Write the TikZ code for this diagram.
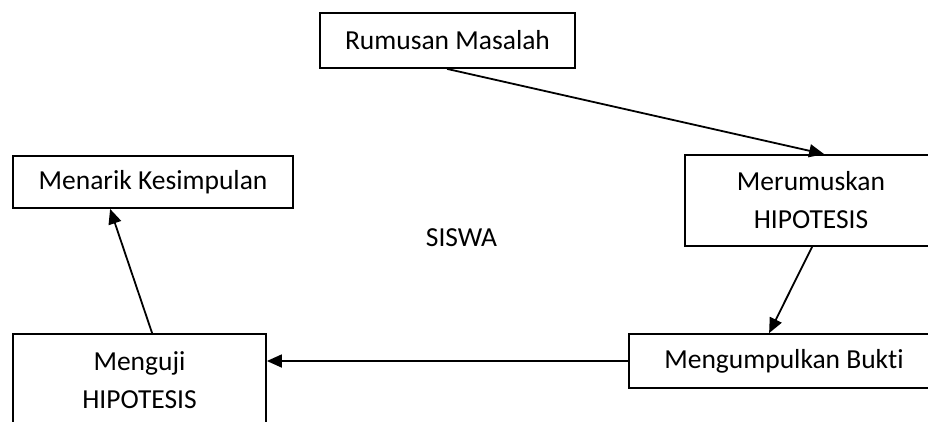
\documentclass[tikz,border=0pt]{standalone}
\usepackage{fontspec}
\setmainfont{Carlito}[Ligatures=NoCommon]
\usetikzlibrary{arrows.meta,calc}
\begin{document}
\begin{tikzpicture}[x=1pt,y=-1pt,
  box/.style={draw=black,line width=1.8pt,rectangle,inner sep=0pt,align=center,
    font=\fontsize{27.5}{38}\selectfont},
  arr/.style={line width=1.8pt,-{Triangle[length=15pt,width=13pt]}}]
\useasboundingbox (0,0) rectangle (928,421);
\clip (0,0) rectangle (928,421);
\fill[white] (0,0) rectangle (928,421);
\node[box,minimum width=255pt,minimum height=55pt] (b1) at (447.5,40.5) {Rumusan Masalah};
\node[box,minimum width=280pt,minimum height=52pt] (b2) at (153,182) {Menarik Kesimpulan};
\node[box,minimum width=252pt,minimum height=91pt] (b3) at (811,200.5) {Merumuskan\\HIPOTESIS};
\node[box,minimum width=253pt,minimum height=92pt] (b4) at (139.5,380) {Menguji\\HIPOTESIS};
\node[box,minimum width=310pt,minimum height=54pt] (b5) at (784,361) {Mengumpulkan Bukti};
\node[font=\fontsize{27.5}{38}\selectfont,inner sep=0pt] (s) at (461.5,238) {SISWA};
\draw[arr] ([xshift=128pt]b1.south west) -- ([xshift=140pt]b3.north west);
\draw[arr] ([xshift=128pt]b3.south west) -- ([xshift=141pt]b5.north west);
\draw[arr] (b5.west) -- (b5.west -| b4.east);
\draw[arr] ([xshift=140pt]b4.north west) -- ([xshift=98pt]b2.south west);
\end{tikzpicture}
\end{document}
